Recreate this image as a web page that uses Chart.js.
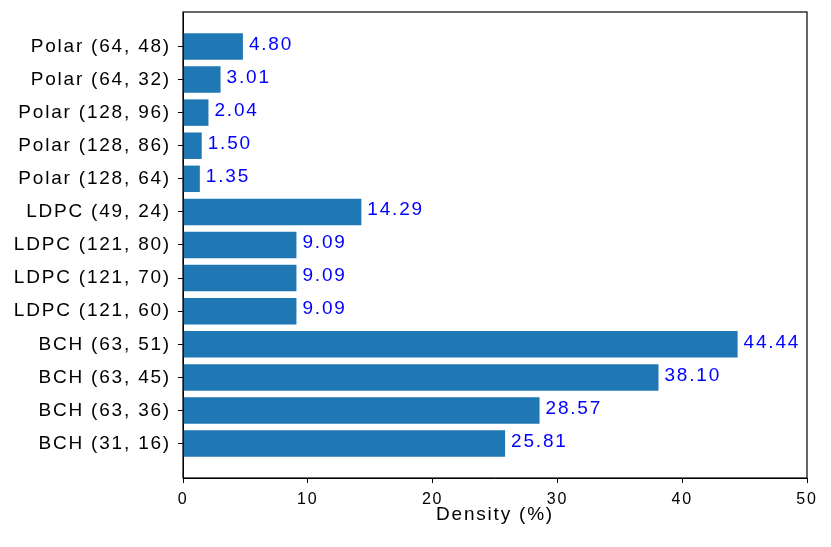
<!DOCTYPE html>
<html lang="en">
<head>
    <meta charset="UTF-8">
    <title>Density</title>
    <style>
        body { margin: 0; background: #fff; }
        #wrap { width: 831px; height: 547px; }
    </style>
</head>
<body>
    <div id="wrap"><canvas id="density-chart" width="831" height="547"></canvas></div>

    <script src="https://cdn.jsdelivr.net/npm/chart.js"></script>
    <script>
        // Codes, listed bottom to top (index 0 is at the bottom)
        const codes = [
            "BCH (31, 16)", "BCH (63, 36)", "BCH (63, 45)", "BCH (63, 51)",
            "LDPC (121, 60)", "LDPC (121, 70)", "LDPC (121, 80)", "LDPC (49, 24)",
            "Polar (128, 64)", "Polar (128, 86)", "Polar (128, 96)", "Polar (64, 32)", "Polar (64, 48)"
        ];
        const density = [25.81, 28.57, 38.10, 44.44, 9.09, 9.09, 9.09, 14.29, 1.35, 1.50, 2.04, 3.01, 4.80];
        const xTicks = [0, 10, 20, 30, 40, 50];

        const FONT = "'Liberation Sans', Arial, sans-serif";
        const SPACING = "1.8px";

        // the reference text is set a little wide, so space the letters out
        const spacing = {
            id: "spacing",
            beforeLayout(chart) { chart.ctx.letterSpacing = SPACING; },
            beforeDraw(chart) { chart.ctx.letterSpacing = SPACING; }
        };

        // black box round the plot area
        const frame = {
            id: "frame",
            afterDraw(chart) {
                const a = chart.chartArea, ctx = chart.ctx;
                ctx.save();
                ctx.strokeStyle = "#000";
                ctx.lineWidth = 1.2;
                ctx.strokeRect(a.left, a.top, a.right - a.left, a.bottom - a.top);
                ctx.restore();
            }
        };

        // value text at the end of each bar
        const valueLabels = {
            id: "valueLabels",
            afterDatasetsDraw(chart) {
                const ctx = chart.ctx;
                const xs = chart.scales.x, ys = chart.scales.y;
                ctx.save();
                ctx.fillStyle = "#0000ff";
                ctx.font = "19px " + FONT;
                ctx.textAlign = "left";
                ctx.textBaseline = "middle";
                density.forEach((v, i) => {
                    ctx.fillText(v.toFixed(2), xs.getPixelForValue(v) + 6, ys.getPixelForValue(i) - 2);
                });
                ctx.restore();
            }
        };

        const ctx = document.getElementById("density-chart").getContext("2d");
        new Chart(ctx, {
            type: "bar",
            data: {
                datasets: [{
                    data: density.map((v, i) => ({ x: v, y: i })),
                    backgroundColor: "#1f77b4",
                    borderWidth: 0,
                    barPercentage: 0.8,
                    categoryPercentage: 1.0
                }]
            },
            options: {
                indexAxis: "y",
                responsive: false,
                animation: false,
                layout: { padding: { left: 0, right: 24, top: 12, bottom: 0 } },
                plugins: { legend: { display: false }, tooltip: { enabled: false } },
                scales: {
                    x: {
                        type: "linear",
                        min: 0,
                        max: 50,
                        afterBuildTicks(axis) { axis.ticks = xTicks.map(v => ({ value: v })); },
                        afterFit(axis) {
                            axis.height = 69;
                            axis.paddingLeft = 0;
                            axis.paddingRight = 0;
                        },
                        grid: { drawOnChartArea: false, drawTicks: true, tickLength: 5, color: "#000" },
                        border: { display: true, color: "#000" },
                        ticks: { color: "#000", font: { family: FONT, size: 16 }, padding: 7 },
                        title: {
                            display: true,
                            text: "Density (%)",
                            color: "#000",
                            font: { family: FONT, size: 19 },
                            padding: { top: 21, bottom: 21 }
                        }
                    },
                    y: {
                        type: "linear",
                        min: -1.04,
                        max: 13.04,
                        offset: false,
                        afterBuildTicks(axis) { axis.ticks = codes.map((c, i) => ({ value: i })); },
                        afterFit(axis) {
                            axis.width = 183;
                            // labels sit well inside the axis, no need for extra room
                            axis.paddingTop = 0;
                            axis.paddingBottom = 0;
                        },
                        grid: { offset: false, drawOnChartArea: false, drawTicks: true, tickLength: 5, color: "#000" },
                        border: { display: true, color: "#000" },
                        ticks: {
                            color: "#000",
                            font: { family: FONT, size: 19 },
                            padding: 7,
                            callback: (v) => codes[v] ?? ""
                        }
                    }
                }
            },
            plugins: [spacing, frame, valueLabels]
        });
    </script>
</body>
</html>
